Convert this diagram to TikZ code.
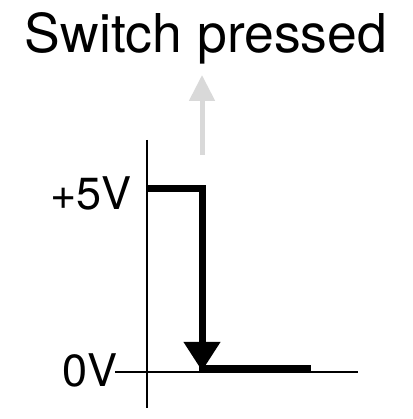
\documentclass[tikz,border=0pt]{standalone}
\usepackage{fontspec}
\setmainfont{TeX Gyre Heros}
\usepackage{xcolor}
\usetikzlibrary{arrows.meta,positioning}
\definecolor{AxisLine}{HTML}{000000}
\definecolor{HintGrey}{HTML}{D9D9D9}
\tikzset{
  axisline/.style={
    line width=1.8pt,
    draw=AxisLine,
  },
  signal/.style={
    line width=7pt,
    draw=black,
    line join=miter,
  },
  falltip/.style={
    -{Triangle[length=29pt,width=35pt]},
  },
  hint/.style={
    -{Triangle[length=26pt,width=25pt]},
    line width=5pt,
    draw=HintGrey,
  },
  biglabel/.style={
    font=\fontsize{53.5}{60}\selectfont,
    inner sep=0pt,
  },
  levellabel/.style={
    font=\fontsize{45}{52}\selectfont,
    inner sep=0pt,
  }
}

\begin{document}
\begin{tikzpicture}[x=1pt,y=1pt]
  \useasboundingbox (0,0) rectangle (412,419);

  % title and the hint arrow
  \node[biglabel, anchor=base] (title) at (206,366) {Switch pressed};
  \coordinate (hintfoot) at (202,264);
  \coordinate (hinthead) at (202,344);
  \draw[hint] (hintfoot) -- (hinthead);

  % axes
  \coordinate (ytop) at (147,279);
  \coordinate (ybot) at (147,11);
  \coordinate (xleft) at (115,47);
  \coordinate (xright) at (358,47);
  \draw[axisline] (ytop) -- (ybot);
  \draw[axisline] (xleft) -- (xright);

  % levels
  \node[levellabel, anchor=base east] (high) at (132,209) {+5V};
  \node[levellabel, anchor=base east] (low) at (118,32) {0V};

  % the signal
  \coordinate (start) at (147,230);
  \coordinate (fall) at (202,50);
  \coordinate (stop) at (311,50);
  \draw[signal, falltip] (start) -| ([yshift=-2pt]fall);
  \draw[signal] ([xshift=-3.5pt]fall) -- (stop);
\end{tikzpicture}
\end{document}
